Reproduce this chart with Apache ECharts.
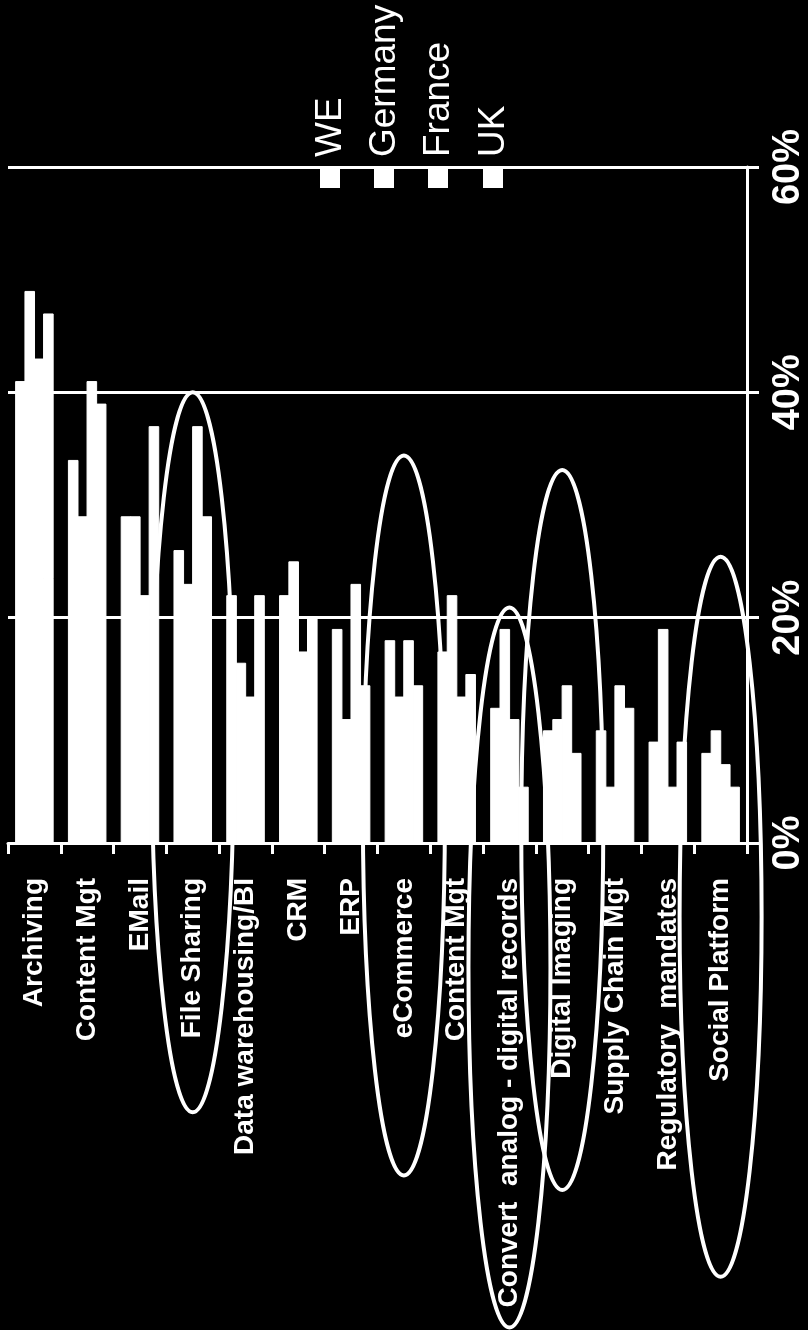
<!DOCTYPE html>
<html>
<head>
<meta charset="utf-8">
<title>Chart</title>
<script src="https://cdn.jsdelivr.net/npm/echarts@6/dist/echarts.min.js"></script>
<style>
  html, body { margin: 0; padding: 0; background: #000; }
  #chart { width: 808px; height: 1330px; }
</style>
</head>
<body>
<div id="chart"></div>
<script>
// ---- data ----
var categories = ['Archiving', 'Content Mgt', 'EMail', 'File Sharing', 'Data warehousing/BI', 'CRM', 'ERP',
  'eCommerce', 'Content Mgt', 'Convert  analog - digital records', 'Digital Imaging', 'Supply Chain Mgt',
  'Regulatory  mandates', 'Social Platform'];
var seriesNames = ['WE', 'Germany', 'France', 'UK'];
var weValues      = [41, 34, 29, 26, 22, 22, 19, 18, 17, 12, 10, 10, 9, 8];
var germanyValues = [49, 29, 29, 23, 16, 25, 11, 13, 22, 19, 11, 5, 19, 10];
var franceValues  = [43, 41, 22, 37, 13, 17, 23, 18, 13, 11, 14, 14, 5, 7];
var ukValues      = [47, 39, 37, 29, 22, 20, 14, 14, 15, 5, 8, 12, 9, 5];
var valueTicks = [0, 20, 40, 60];
// highlighted categories (ellipse annotations): [category index, top of ellipse in %]
var highlightIndex = [3, 7, 9, 10, 13];
var highlightTop   = [40, 34.4, 20.9, 33.1, 25.4];

var FONT = "'Liberation Sans', Arial, Helvetica, sans-serif";
var allValues = [weValues, germanyValues, franceValues, ukValues];

var chart = echarts.init(document.getElementById('chart'), null, { renderer: 'canvas' });

var series = seriesNames.map(function (name, i) {
  return {
    name: name,
    type: 'bar',
    data: allValues[i],
    barGap: '-12%',
    barCategoryGap: '27%',
    itemStyle: { color: '#ffffff', borderColor: '#ffffff', borderWidth: 1 },
    silent: true,
    z: 2
  };
});

var RY = 360, RX = 41;
series.push({
  name: 'highlight',
  type: 'custom',
  clip: false,
  silent: true,
  z: 5,
  data: highlightIndex.map(function (c, i) { return [c, highlightTop[i]]; }),
  renderItem: function (params, api) {
    var p = api.coord([api.value(0), api.value(1)]);
    return {
      type: 'ellipse',
      shape: { cx: p[0], cy: p[1] + RY, rx: RX, ry: RY },
      style: { fill: 'none', stroke: '#ffffff', lineWidth: 4 }
    };
  }
});

// legend drawn as rotated text
var legendX = [330, 384, 438, 493];
var legendEls = [];
seriesNames.forEach(function (n, i) {
  legendEls.push({
    type: 'rect',
    shape: { x: legendX[i] - 10, y: 168, width: 20, height: 20 },
    style: { fill: '#ffffff' },
    silent: true
  });
  legendEls.push({
    type: 'text',
    x: legendX[i] + 1,
    y: 157,
    rotation: Math.PI / 2,
    style: {
      text: n,
      fill: '#ffffff',
      font: '37px ' + FONT,
      align: 'left',
      verticalAlign: 'middle',
      textAlign: 'left',
      textVerticalAlign: 'middle'
    },
    silent: true
  });
});

var option = {
  backgroundColor: '#000000',
  animation: false,
  grid: { left: 8, right: 60, top: 167, bottom: 487, containLabel: false },
  xAxis: {
    type: 'category',
    data: categories,
    offset: 7,
    axisLine: { show: true, lineStyle: { color: '#ffffff', width: 3 } },
    axisTick: { show: true, length: 11, lineStyle: { color: '#ffffff', width: 3 } },
    axisLabel: {
      interval: 0,
      rotate: 90,
      margin: 28,
      padding: [10, 0, 0, 0],
      color: '#ffffff',
      fontFamily: FONT,
      fontWeight: 'bold',
      fontSize: 28
    },
    splitLine: { show: false }
  },
  yAxis: {
    type: 'value',
    position: 'right',
    min: valueTicks[0],
    max: valueTicks[valueTicks.length - 1],
    interval: valueTicks[1] - valueTicks[0],
    axisLine: { show: true, lineStyle: { color: '#ffffff', width: 3 } },
    axisTick: { show: true, length: 12, lineStyle: { color: '#ffffff', width: 3 } },
    axisLabel: {
      rotate: 90,
      margin: 23,
      color: '#ffffff',
      fontFamily: FONT,
      fontWeight: 'bold',
      fontSize: 38,
      formatter: '{value}%'
    },
    splitLine: { show: true, lineStyle: { color: '#ffffff', width: 3 } }
  },
  graphic: legendEls,
  series: series
};

chart.setOption(option);
</script>
</body>
</html>
